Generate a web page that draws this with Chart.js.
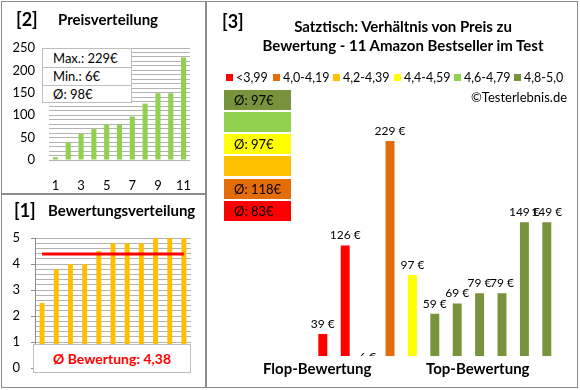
<!DOCTYPE html>
<html>
<head>
<meta charset="utf-8">
<script src="https://cdn.jsdelivr.net/npm/chart.js@4"></script>
<style>
  body { margin: 0; background: #fff; font-family: Lato, Carlito, sans-serif; }
  #wrap { position: relative; width: 580px; height: 390px; background: #fff; overflow: hidden; }
  .abs { position: absolute; white-space: nowrap; }
  .line { position: absolute; background: #8c8c8c; }
  canvas { position: absolute; }
  .title { font-weight: bold; font-size: 15px; color: #000; }
  .num { font-weight: bold; font-size: 18px; color: #000; }
  .statRow { position: absolute; left: 0; width: 100%; box-sizing: border-box; padding-left: 10px; font-size: 13px; line-height: 18px; border-bottom: 1px solid #bfbfbf; }
  .avgBox { position: absolute; left: 224px; width: 67px; height: 20px; font-size: 13px; line-height: 20px; box-sizing: border-box; padding-left: 10px; }
  .legItem { position: absolute; top: 70px; font-size: 12.5px; line-height: 15px; }
  .legItem i { display: inline-block; width: 7px; height: 7px; margin-right: 3px; vertical-align: 1px; }
</style>
</head>
<body>
<div id="wrap">
  <div class="abs" style="left:1px;top:1px;width:577px;height:387px;border:1.5px solid #8c8c8c;box-sizing:border-box;"></div>
  <div class="line" style="left:205px;top:1px;width:1.5px;height:387px;"></div>
  <div class="line" style="left:1px;top:193px;width:205px;height:1.5px;"></div>

  <canvas id="priceChart" width="205" height="193" style="left:0;top:0;"></canvas>
  <canvas id="ratingChart" width="205" height="194" style="left:0;top:193px;"></canvas>
  <canvas id="mainChart" width="372" height="387" style="left:205px;top:0;"></canvas>

  <div class="abs num" style="left:16px;top:8px;">[2]</div>
  <div class="abs title" style="left:58px;top:10px;">Preisverteilung</div>
  <div class="abs num" style="left:14px;top:199px;">[1]</div>
  <div class="abs title" style="left:48px;top:201px;">Bewertungsverteilung</div>
  <div class="abs num" style="left:222px;top:10px;">[3]</div>
  <div class="abs title" style="left:205px;width:372px;top:17px;text-align:center;line-height:19px;padding-left:24px;box-sizing:border-box;">Satztisch: Verhältnis von Preis zu<br>Bewertung - 11 Amazon Bestseller im Test</div>

  <div id="stats" class="abs" style="left:42px;top:48px;width:90px;height:55px;background:#fff;border:1px solid #bfbfbf;box-sizing:border-box;"></div>
  <div id="ratingBox" class="abs" style="left:33px;top:344px;width:158px;height:29px;background:#fff;border:1px solid #bfbfbf;box-sizing:border-box;text-align:center;font-weight:bold;font-size:14px;line-height:27px;color:#ff0000;"></div>

  <div id="legend"></div>
  <div id="avgBoxes"></div>
  <div class="abs" style="left:471px;top:89px;font-size:13px;">©Testerlebnis.de</div>
  <div class="abs title" style="left:263px;top:359px;">Flop-Bewertung</div>
  <div class="abs title" style="left:426px;top:359px;">Top-Bewertung</div>
</div>

<script>
// products in the order of the right chart
const prices = [39, 126, 6, 229, 97, 59, 69, 79, 79, 149, 149];
const ratings = [2.5, 3.8, 4.0, 4.0, 4.5, 4.8, 4.8, 4.8, 5.0, 5.0, 5.0];
const emptySlots = 4;

const groupLabels = ["<3,99", "4,0-4,19", "4,2-4,39", "4,4-4,59", "4,6-4,79", "4,8-5,0"];
const groupColors = ["#ff0000", "#e46c0a", "#ffc000", "#ffff00", "#92d050", "#77933c"];
const groupLimits = [4.0, 4.2, 4.4, 4.6, 4.8];

const priceTicks = [1, 2, 3, 4, 5, 6, 7, 8, 9, 10, 11];

Chart.defaults.font.family = "Lato, Carlito, sans-serif";
Chart.defaults.color = "#000";

const groupOf = (r) => {
  let g = 0;
  groupLimits.forEach((l) => { if (r >= l - 1e-9) g++; });
  return g;
};

const sortedPrices = [...prices].sort((a, b) => a - b);
const avgPrice = Math.round(prices.reduce((a, b) => a + b, 0) / prices.length);
const avgRating = ratings.reduce((a, b) => a + b, 0) / ratings.length;

// stats box
document.getElementById("stats").innerHTML =
  '<div class="statRow" style="top:0">Max.: ' + Math.max(...prices) + '€</div>' +
  '<div class="statRow" style="top:18px">Min.: ' + Math.min(...prices) + '€</div>' +
  '<div class="statRow" style="top:36px;border-bottom:none">Ø: ' + avgPrice + '€</div>';

document.getElementById("ratingBox").textContent =
  "Ø Bewertung: " + avgRating.toFixed(2).replace(".", ",");

// legend
const legX = [226, 273, 333, 394, 454, 514];
let legHtml = "";
groupLabels.forEach((lbl, i) => {
  legHtml += '<div class="legItem" style="left:' + legX[i] + 'px"><i style="background:' +
    groupColors[i] + '"></i>' + lbl + '</div>';
});
document.getElementById("legend").innerHTML = legHtml;

// average boxes, top = best group
const boxTops = [90, 112, 134, 156, 179, 201];
let boxHtml = "";
for (let k = 0; k < 6; k++) {
  const g = 5 - k;
  const vals = prices.filter((p, i) => groupOf(ratings[i]) === g);
  const txt = vals.length ? "Ø: " + Math.round(vals.reduce((a, b) => a + b, 0) / vals.length) + "€" : "";
  boxHtml += '<div class="avgBox" style="top:' + boxTops[k] + 'px;background:' + groupColors[g] + '">' + txt + '</div>';
}
document.getElementById("avgBoxes").innerHTML = boxHtml;

// [2] price distribution
new Chart(document.getElementById("priceChart"), {
  type: "bar",
  data: {
    labels: priceTicks,
    datasets: [{ data: sortedPrices, backgroundColor: "#92d050", barPercentage: 0.4, categoryPercentage: 1 }],
  },
  options: {
    responsive: false,
    animation: false,
    layout: { padding: { top: 48, right: 15, left: 0, bottom: 0 } },
    plugins: { legend: { display: false }, tooltip: { enabled: false } },
    scales: {
      x: {
        grid: { display: false },
        border: { display: false },
        ticks: {
          font: { size: 13 },
          padding: 10,
          autoSkip: false,
          maxRotation: 0,
          callback: (v, i) => (i % 2 === 0 ? priceTicks[i] : ""),
        },
        afterFit: (s) => { s.height = 33; },
      },
      y: {
        min: 0,
        max: 250,
        grid: { color: "#b3b3b3", drawTicks: false },
        border: { display: false },
        ticks: {
          stepSize: 10,
          autoSkip: false,
          padding: 14,
          font: { size: 13 },
          callback: (v) => (v % 50 === 0 ? v : ""),
        },
        afterFit: (s) => { s.width = 49; },
      },
    },
  },
});

// [1] rating distribution
new Chart(document.getElementById("ratingChart"), {
  type: "bar",
  data: {
    labels: priceTicks,
    datasets: [
      {
        type: "line",
        data: ratings.map(() => avgRating),
        borderColor: "#ff0000",
        borderWidth: 3,
        pointRadius: 0,
        order: 0,
      },
      { data: ratings, backgroundColor: "#ffc000", barPercentage: 0.35, categoryPercentage: 1, order: 1 },
    ],
  },
  options: {
    responsive: false,
    animation: false,
    layout: { padding: { top: 45, right: 14, left: 0, bottom: 14 } },
    plugins: { legend: { display: false }, tooltip: { enabled: false } },
    scales: {
      x: { display: false },
      y: {
        min: 0,
        max: 5,
        grid: {
          color: "#b3b3b3",
          tickLength: 4,
          tickColor: (c) => (Math.abs(c.tick.value - Math.round(c.tick.value)) < 1e-6 ? "#8c8c8c" : "rgba(0,0,0,0)"),
        },
        border: { display: true, color: "#8c8c8c" },
        ticks: {
          stepSize: 0.2,
          autoSkip: false,
          padding: 11,
          font: { size: 13 },
          callback: (v) => (Math.abs(v - Math.round(v)) < 1e-6 ? Math.round(v) : ""),
        },
        afterFit: (s) => { s.width = 35; },
      },
    },
  },
});

// [3] price vs rating
const slotLabels = [];
const slotValues = [];
const slotColors = [];
for (let i = 0; i < emptySlots; i++) { slotLabels.push(""); slotValues.push(null); slotColors.push("#fff"); }
prices.forEach((p, i) => {
  slotLabels.push(String(i + 1));
  slotValues.push(p);
  slotColors.push(groupColors[groupOf(ratings[i])]);
});

const barLabels = {
  id: "barLabels",
  afterDatasetsDraw(chart) {
    const { ctx, chartArea } = chart;
    const meta = chart.getDatasetMeta(0);
    ctx.save();
    ctx.beginPath();
    ctx.rect(0, 0, chart.width, chartArea.bottom);
    ctx.clip();
    ctx.font = "12px Lato, Carlito, sans-serif";
    ctx.fillStyle = "#000";
    ctx.textAlign = "center";
    ctx.textBaseline = "bottom";
    meta.data.forEach((bar, i) => {
      const v = slotValues[i];
      if (v == null) return;
      ctx.fillText(v + " €", bar.x, bar.y - 4);
    });
    ctx.restore();
  },
};

new Chart(document.getElementById("mainChart"), {
  type: "bar",
  data: {
    labels: slotLabels,
    datasets: [{ data: slotValues, backgroundColor: slotColors, barPercentage: 0.4, categoryPercentage: 1 }],
  },
  options: {
    responsive: false,
    animation: false,
    layout: { padding: { top: 119.7, right: 19, left: 17, bottom: 31 } },
    plugins: { legend: { display: false }, tooltip: { enabled: false } },
    scales: {
      x: { display: false },
      y: { display: false, min: 17.3, max: 250 },
    },
  },
  plugins: [barLabels],
});
</script>
</body>
</html>
